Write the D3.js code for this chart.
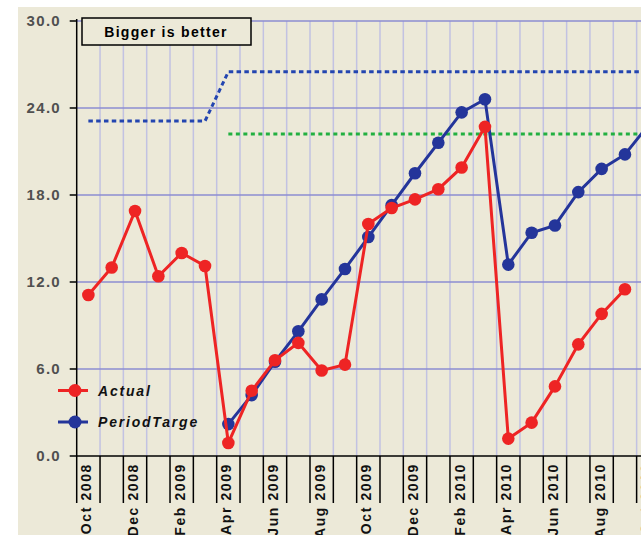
<!DOCTYPE html>
<html>
<head>
<meta charset="utf-8">
<title>Bigger is better</title>
<style>
body { margin: 0; background: #fff; }
svg { display: block; font-family: "Liberation Sans", Arial, sans-serif; }
.ylab { font-size: 15px; font-weight: bold; fill: #505050; letter-spacing: 1.3px; }
.xlab { font-size: 14px; font-weight: bold; fill: #111; letter-spacing: 1.6px; }
.leg { font-size: 14px; font-weight: bold; font-style: italic; fill: #111; letter-spacing: 1.8px; }
</style>
</head>
<body>
<script src="https://d3js.org/d3.v7.min.js"></script>
<script>
// months on the x axis
var months = ["Oct 2008","Nov 2008","Dec 2008","Jan 2009","Feb 2009","Mar 2009",
  "Apr 2009","May 2009","Jun 2009","Jul 2009","Aug 2009","Sep 2009",
  "Oct 2009","Nov 2009","Dec 2009","Jan 2010","Feb 2010","Mar 2010",
  "Apr 2010","May 2010","Jun 2010","Jul 2010","Aug 2010","Sep 2010","Oct 2010"];

var actual = [11.1, 13.0, 16.9, 12.4, 14.0, 13.1, 0.9, 4.5, 6.6, 7.8, 5.9, 6.3,
  16.0, 17.1, 17.7, 18.4, 19.9, 22.7, 1.2, 2.3, 4.8, 7.7, 9.8, 11.5, null];

var periodTarget = [null, null, null, null, null, null, 2.2, 4.2, 6.5, 8.6, 10.8, 12.9,
  15.1, 17.3, 19.5, 21.6, 23.7, 24.6, 13.2, 15.4, 15.9, 18.2, 19.8, 20.8, 22.8];

var target = [23.1, 23.1, 23.1, 23.1, 23.1, 23.1, 26.5, 26.5, 26.5, 26.5, 26.5, 26.5,
  26.5, 26.5, 26.5, 26.5, 26.5, 26.5, 26.5, 26.5, 26.5, 26.5, 26.5, 26.5, 26.5];

var benchmark = [null, null, null, null, null, null, 22.2, 22.2, 22.2, 22.2, 22.2, 22.2,
  22.2, 22.2, 22.2, 22.2, 22.2, 22.2, 22.2, 22.2, 22.2, 22.2, 22.2, 22.2, 22.2];

var yTicks = [0, 6, 12, 18, 24, 30];

var width = 641, height = 535;
var left = 76.7, step = 23.33;

var svg = d3.select("body").append("svg")
    .attr("width", width)
    .attr("height", height);

// beige panel
svg.append("rect").attr("x", 18).attr("y", 7)
    .attr("width", width - 18).attr("height", height - 7)
    .attr("fill", "#ECE9D8");

var x = d3.scaleBand().domain(months).range([left, left + step * months.length]).padding(0);
var y = d3.scaleLinear().domain([0, 30]).range([456, 21]);
var cx = function(m) { return x(m) + x.bandwidth() / 2; };

// vertical grid at band edges
var edges = months.slice(1).map(function(m) { return x(m); });
edges.push(x(months[months.length - 1]) + x.bandwidth());
svg.append("g").selectAll("line").data(edges).enter().append("line")
    .attr("x1", d => d).attr("x2", d => d)
    .attr("y1", y(30)).attr("y2", y(0))
    .attr("stroke", "#C2C2E2").attr("stroke-width", 1.5);

// horizontal grid
svg.append("g").selectAll("line").data(yTicks.slice(1)).enter().append("line")
    .attr("x1", left).attr("x2", width)
    .attr("y1", d => y(d)).attr("y2", d => y(d))
    .attr("stroke", "#8C8CD2").attr("stroke-width", 1.5);

// axes
svg.append("line").attr("x1", left).attr("x2", left).attr("y1", 19).attr("y2", 503)
    .attr("stroke", "#000").attr("stroke-width", 1.5);
svg.append("line").attr("x1", left).attr("x2", width).attr("y1", y(0)).attr("y2", y(0))
    .attr("stroke", "#000").attr("stroke-width", 1.5);

svg.append("g").selectAll("line").data(yTicks).enter().append("line")
    .attr("x1", left - 7).attr("x2", left)
    .attr("y1", d => y(d)).attr("y2", d => y(d))
    .attr("stroke", "#000").attr("stroke-width", 1.5);
svg.append("g").selectAll("text").data(yTicks).enter().append("text")
    .attr("class", "ylab")
    .attr("x", 61).attr("y", d => y(d)).attr("dy", "0.36em")
    .attr("text-anchor", "end")
    .text(d => d3.format(".1f")(d));

svg.append("g").selectAll("line").data(edges).enter().append("line")
    .attr("x1", d => d).attr("x2", d => d)
    .attr("y1", y(0)).attr("y2", 503)
    .attr("stroke", "#000").attr("stroke-width", 1.5);

svg.append("g").selectAll("text").data(months.filter((m, i) => i % 2 === 0)).enter().append("text")
    .attr("class", "xlab")
    .attr("transform", d => "translate(" + (cx(d) - 2) + ",463) rotate(-90)")
    .attr("dy", "0.36em")
    .attr("text-anchor", "end")
    .text(d => d);

// target lines
function lineOf(vals) {
  return d3.line()
    .defined(d => d != null)
    .x((d, i) => cx(months[i]))
    .y(d => y(d))(vals);
}

svg.append("path").attr("d", lineOf(target))
    .attr("fill", "none").attr("stroke", "#2345B0").attr("stroke-width", 3)
    .attr("stroke-dasharray", "4.5,3.3");
svg.append("path").attr("d", lineOf(benchmark))
    .attr("fill", "none").attr("stroke", "#22B040").attr("stroke-width", 3)
    .attr("stroke-dasharray", "4,3.5");

// "Bigger is better" box
svg.append("rect").attr("x", 82).attr("y", 18).attr("width", 169).attr("height", 27)
    .attr("fill", "#ECE9D8").attr("stroke", "#000").attr("stroke-width", 1.5);
svg.append("text").attr("x", 166).attr("y", 31.5).attr("dy", "0.36em")
    .attr("text-anchor", "middle")
    .style("font-size", "14px").style("font-weight", "bold").style("letter-spacing", "1.3px")
    .text("Bigger is better");

// data series
var series = [
  { name: "PeriodTarget", values: periodTarget, color: "#24359A" },
  { name: "Actual", values: actual, color: "#EE2424" }
];

series.forEach(function(s) {
  svg.append("path").attr("d", lineOf(s.values))
      .attr("fill", "none").attr("stroke", s.color).attr("stroke-width", 3);
  svg.append("g").selectAll("circle")
      .data(s.values.map((v, i) => ({ v: v, m: months[i] })).filter(d => d.v != null))
      .enter().append("circle")
      .attr("cx", d => cx(d.m)).attr("cy", d => y(d.v))
      .attr("r", 6.3).attr("fill", s.color);
});

// legend
svg.append("clipPath").attr("id", "legclip")
    .append("rect").attr("x", 40).attr("y", 370).attr("width", 159).attr("height", 70);
var legend = svg.append("g").attr("clip-path", "url(#legclip)");
[{ name: "Actual", color: "#EE2424", y: 390.5 },
 { name: "PeriodTarget", color: "#24359A", y: 422 }].forEach(function(d) {
  legend.append("line").attr("x1", 58).attr("x2", 88).attr("y1", d.y).attr("y2", d.y)
      .attr("stroke", d.color).attr("stroke-width", 3);
  legend.append("circle").attr("cx", 75).attr("cy", d.y).attr("r", 6.5).attr("fill", d.color);
  legend.append("text").attr("class", "leg").attr("x", 98).attr("y", d.y).attr("dy", "0.36em")
      .text(d.name);
});
</script>
</body>
</html>
